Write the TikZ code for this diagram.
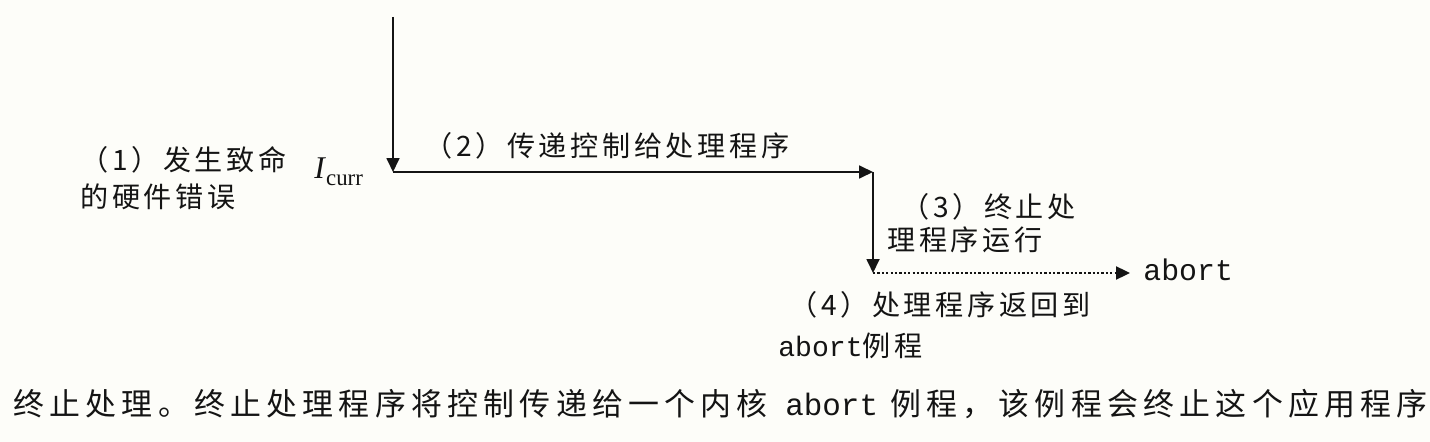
\documentclass[tikz,border=0pt]{standalone}
\usepackage{fontspec}
\setmainfont{Liberation Serif}
\setmonofont{Liberation Mono}
\newfontfamily\cjkfont[LetterSpace=13]{Noto Sans CJK SC}
\newfontfamily\capfont[LetterSpace=17]{Noto Sans CJK SC}
\usepackage{tikz}
\usetikzlibrary{arrows.meta, positioning}
\definecolor{mydark}{RGB}{20,20,20}
\definecolor{mypaper}{RGB}{253,253,249}
\tikzset{
  lbl/.style={inner sep=0pt, align=left, anchor=west, text=mydark,
    font=\cjkfont\fontsize{16}{19}\selectfont},
  arrow/.style={-{Triangle[length=0.28cm, width=0.26cm]}, line width=1pt, color=mydark},
  dotarrow/.style={arrow, line width=1.3pt, dash pattern=on 1.3pt off 1.2pt}
}

\begin{document}
\begin{tikzpicture}[x=0.02cm, y=-0.02cm,
  capline/.style={inner sep=0pt, anchor=west, text=mydark, font=\capfont\fontsize{17.6}{20}\selectfont},
  codetext/.style={inner sep=0pt, anchor=base west, text=mydark, font=\ttfamily\fontsize{17}{20}\selectfont}]

  \fill[mypaper] (0,0) rectangle (1430,442);
  \useasboundingbox (0,0) rectangle (1430,442);

  % Points on the control path
  \coordinate (top) at (393,17);
  \coordinate (icurr) at (393,172);
  \coordinate (hdlr) at (873,172);
  \coordinate (stop) at (873,273);

  % Nodes
  \node[lbl] (fault) at (80,178) {（1）发生致命\\[2pt]的硬件错误};
  \node[inner sep=0pt, anchor=base west, text=mydark, font=\fontsize{18}{20}\selectfont] (curr) at (314,179)
    {\textit{I}\raisebox{-3.5pt}{\fontsize{13}{15}\selectfont curr}};
  \node[lbl] (pass) at (424,146) {（2）传递控制给处理程序};
  \node[lbl] (term) at (887,223) {\hspace*{0.28cm}（3）终止处\\理程序运行};
  \node[lbl] (ret) at (778,325) {\hspace*{0.22cm}（4）处理程序返回到\\[4pt]\texttt{abort}例程};
  \node[codetext] (abrt) at (1143,280) {abort};
  \node[capline] (cap) at (13,404) {终止处理。终止处理程序将控制传递给一个内核 \texttt{abort} 例程，该例程会终止这个应用程序};

  % Arrows
  \draw[arrow] (top) -- (icurr);
  \draw[arrow] (icurr) -- (hdlr);
  \draw[arrow] (hdlr) -- (stop);
  \draw[dotarrow, shorten >=0.26cm] (stop) -- (abrt.west |- stop);

\end{tikzpicture}
\end{document}
